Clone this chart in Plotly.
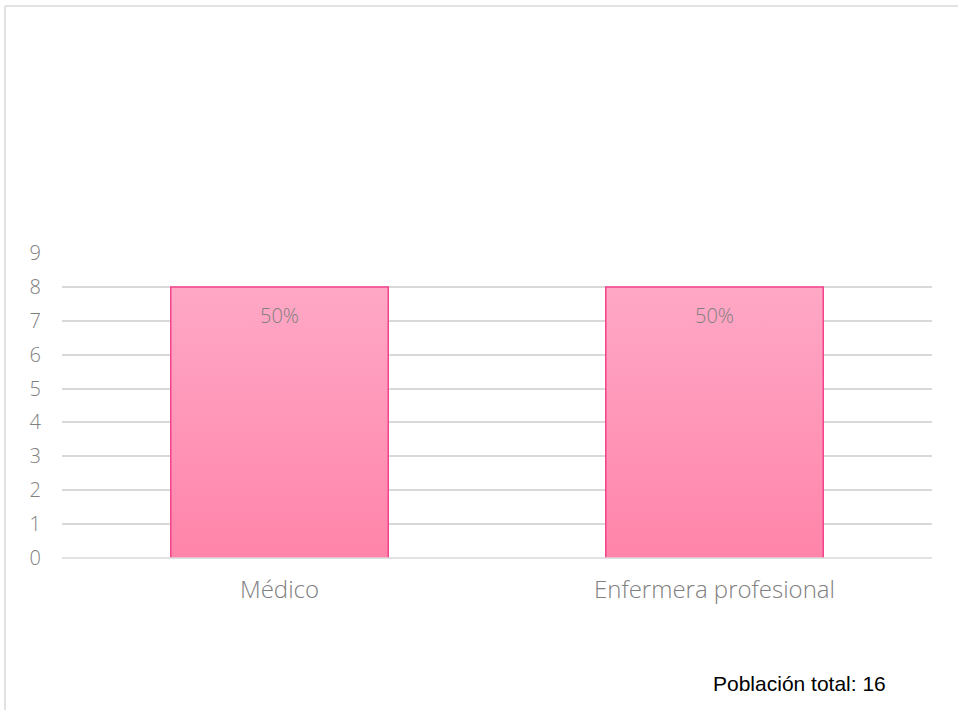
import plotly.graph_objects as go

categories = ["Médico", "Enfermera profesional"]
values = [8, 8]
y_ticks = list(range(0, 10))
total_label = "Población total: 16"

W, H = 958, 710
ML, MR, MT, MB = 62, 26, 253, 152
pw, ph = W - ML - MR, H - MT - MB

FONT = "Open Sans"
total = sum(values)
half = 0.25
fig = go.Figure()
for i, (c, v) in enumerate(zip(categories, values)):
    fig.add_trace(go.Scatter(
        x=[i - half, i - half, i + half, i + half],
        y=[0, v, v, 0],
        mode="lines",
        fill="toself",
        fillgradient=dict(type="vertical", colorscale=[[0, "#FF84AA"], [1, "#FFA8C6"]]),
        line=dict(color="#F4438A", width=1.5),
        hoverinfo="skip",
        showlegend=False,
    ))
    fig.add_annotation(
        x=i, y=v, yshift=-29, text=f"{v / total:.0%}", showarrow=False,
        xanchor="center", yanchor="middle",
        font=dict(family=FONT, size=20, color="#808080", weight=300),
    )

def px2x(p):
    return (p - ML) / pw

def py2y(p):
    return (H - MB - p) / ph

fig.add_shape(type="line", xref="paper", yref="paper",
              x0=px2x(5), x1=px2x(970), y0=py2y(6), y1=py2y(6),
              line=dict(color="#D9D9D9", width=1.5))
fig.add_shape(type="line", xref="paper", yref="paper",
              x0=px2x(5), x1=px2x(5), y0=py2y(6), y1=py2y(720),
              line=dict(color="#D9D9D9", width=1.5))
fig.add_shape(type="line", xref="paper", yref="paper",
              x0=0, x1=1, y0=0, y1=0, layer="above",
              line=dict(color="#D9D9D9", width=1.5))

fig.add_annotation(text=total_label, xref="paper", yref="paper",
                   x=px2x(888), y=py2y(683), xanchor="right", yanchor="middle",
                   showarrow=False, font=dict(family="Liberation Sans, Arial", size=21, color="#000000"))

fig.update_layout(
    width=W, height=H,
    margin=dict(l=ML, r=MR, t=MT, b=MB),
    paper_bgcolor="white", plot_bgcolor="white",
    xaxis=dict(range=[-0.5, 1.5], tickvals=list(range(len(categories))), ticktext=categories,
               showgrid=False, zeroline=False, showline=False, ticks="",
               ticklabelstandoff=15,
               tickfont=dict(family=FONT, size=24, color="#808080", weight=300)),
    yaxis=dict(range=[0, 9], tickvals=y_ticks, showgrid=True, gridcolor="#D9D9D9", gridwidth=1.5,
               zeroline=False, showline=False, ticks="",
               ticklabelstandoff=20,
               tickfont=dict(family=FONT, size=20, color="#808080", weight=300)),
)
fig.write_html("out.html")
